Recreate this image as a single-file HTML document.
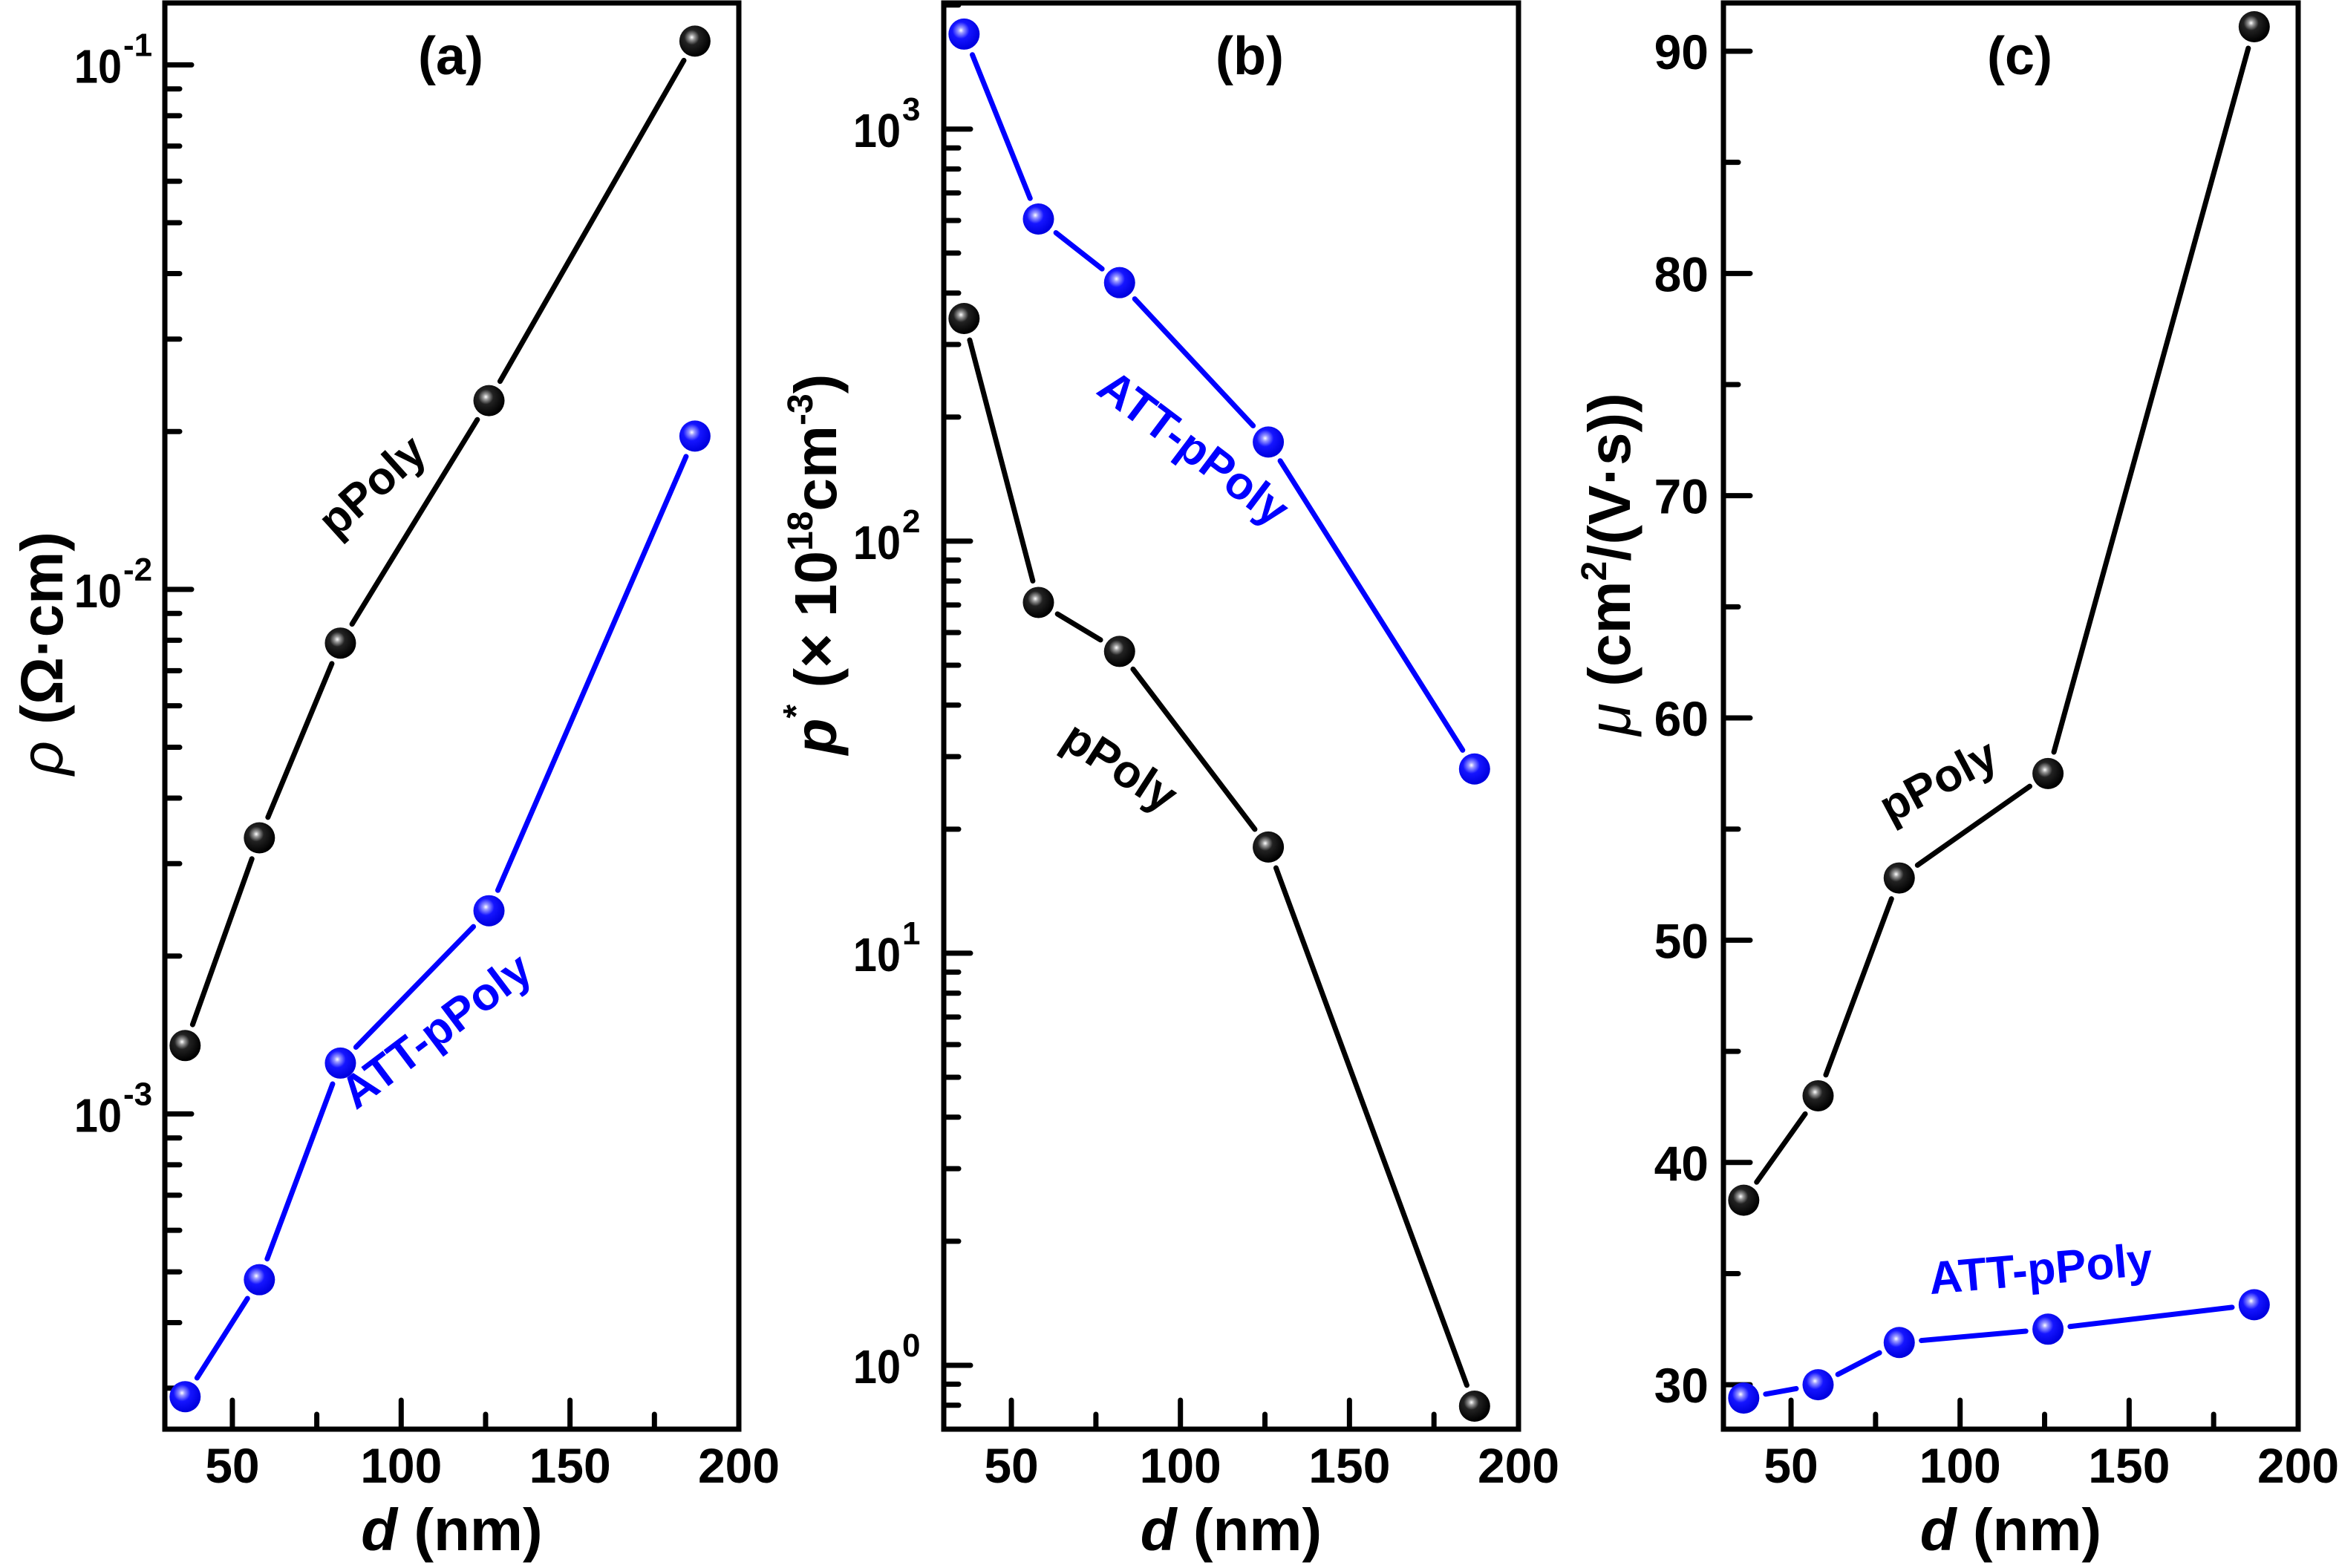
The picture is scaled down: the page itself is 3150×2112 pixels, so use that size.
<!DOCTYPE html>
<html><head><meta charset="utf-8"><style>
html,body{margin:0;padding:0;background:#fff;}
svg{display:block;}
text{font-family:"Liberation Sans",Arial,sans-serif;font-weight:bold;}
</style></head><body>
<svg id="fig" width="3150" height="2112" viewBox="0 0 3150 2112" xmlns="http://www.w3.org/2000/svg">
<defs>
<radialGradient id="gBlack" cx="0.4" cy="0.38" r="0.6"><stop offset="0" stop-color="#fff"/><stop offset="0.15" stop-color="#999"/><stop offset="0.4" stop-color="#222"/><stop offset="1" stop-color="#000"/></radialGradient>
<radialGradient id="gBlue" cx="0.4" cy="0.38" r="0.6"><stop offset="0" stop-color="#fff"/><stop offset="0.15" stop-color="#9999ff"/><stop offset="0.45" stop-color="#1515ff"/><stop offset="1" stop-color="#0000e0"/></radialGradient>
</defs>
</svg>
<script>
// shared x data (d, nm)
const dVals = [36, 58, 82, 126, 187];
// panel (a) resistivity
const rhoPPoly = [0.00135, 0.00336, 0.0079, 0.0229, 0.111];
const rhoATT = [0.000289, 0.000483, 0.00125, 0.00244, 0.0196];
// panel (b) carrier concentration
const pPPoly = [347, 71, 54, 18.1, 0.796];
const pATT = [1700, 605, 424, 174, 28];
// panel (c) mobility
const muPPoly = [38.3, 43.0, 52.8, 57.5, 91.1];
const muATT = [29.4, 30.0, 31.9, 32.5, 33.6];
const xTicks = [50, 100, 150, 200];
const xMinor = [75, 125, 175];
const aTickExp = [-1, -2, -3];
const bTickExp = [3, 2, 1, 0];
const cTicks = [30, 40, 50, 60, 70, 80, 90];
const cMinor = [35, 45, 55, 65, 75, 85];

const svg = document.getElementById('fig');
const NS = 'http://www.w3.org/2000/svg';
function mk(tag, attrs, parent) {
  const e = document.createElementNS(NS, tag);
  for (const k in attrs) e.setAttribute(k, attrs[k]);
  (parent || svg).appendChild(e);
  return e;
}

function panel(cfg) {
  const g = mk('g', {});
  
  
  const L = cfg.left, R = cfg.right, T = 4, B = 1925;
  const xs = v => L + (v - 30) / (cfg.xmax - 30) * (R - L);
  const ys = cfg.log
    ? v => T + (cfg.ymaxLog - Math.log10(v)) / (cfg.ymaxLog - cfg.yminLog) * (B - T)
    : v => T + (cfg.ymax - v) / (cfg.ymax - cfg.ymin) * (B - T);
  const fr = mk('rect', {x: L, y: T, width: R - L, height: B - T, fill: 'none', stroke: '#000', 'stroke-width': 7}, g);
  
  
  xTicks.forEach(v => {
    const x = xs(v);
    mk('line', {x1: x, y1: B, x2: x, y2: B - 39, stroke: '#000', 'stroke-width': 7, 'stroke-linecap': 'round'}, g);
    const t = mk('text', {x: x, y: 1997, 'font-size': 66, 'text-anchor': 'middle'}, g);
    t.textContent = v;
    
    
  });
  xMinor.forEach(v => {
    const x = xs(v);
    mk('line', {x1: x, y1: B, x2: x, y2: B - 20, stroke: '#000', 'stroke-width': 7, 'stroke-linecap': 'round'}, g);
  });
  if (cfg.log) {
    cfg.exps.forEach(ex => {
      const y = ys(Math.pow(10, ex));
      mk('line', {x1: L, y1: y, x2: L + 36, y2: y, stroke: '#000', 'stroke-width': 7, 'stroke-linecap': 'round'}, g);
      const t = mk('text', {x: L - 58, y: y + 24, 'font-size': 64, 'text-anchor': 'end', transform: `translate(${L - 58} 0) scale(0.9 1) translate(${-(L - 58)} 0)`}, g);
      t.textContent = '10';
      
      
      const s = mk('text', {x: L - 56, y: y - 12, 'font-size': 44, 'text-anchor': 'start'}, g);
      s.textContent = String(ex);
      for (let m = 2; m <= 9; m++) {
        const v = m * Math.pow(10, ex - 1);
        if (Math.log10(v) < cfg.yminLog) continue;
        const yy = ys(v);
        mk('line', {x1: L, y1: yy, x2: L + 20, y2: yy, stroke: '#000', 'stroke-width': 7, 'stroke-linecap': 'round'}, g);
      }
      for (let m = 2; m <= 9; m++) {
        const v = m * Math.pow(10, ex);
        if (Math.log10(v) > cfg.ymaxLog || ex !== cfg.exps[0]) continue;
        const yy = ys(v);
        mk('line', {x1: L, y1: yy, x2: L + 20, y2: yy, stroke: '#000', 'stroke-width': 7, 'stroke-linecap': 'round'}, g);
      }
    });
  } else {
    cTicks.forEach(v => {
      const y = ys(v);
      mk('line', {x1: L, y1: y, x2: L + 36, y2: y, stroke: '#000', 'stroke-width': 7, 'stroke-linecap': 'round'}, g);
      const t = mk('text', {x: L - 20, y: y + 24, 'font-size': 66, 'text-anchor': 'end'}, g);
      t.textContent = v;
      
      
    });
    cMinor.forEach(v => {
      const y = ys(v);
      mk('line', {x1: L, y1: y, x2: L + 20, y2: y, stroke: '#000', 'stroke-width': 7, 'stroke-linecap': 'round'}, g);
    });
  }
  cfg.series.forEach(s => {
    const sg = mk('g', {}, g);
    
    
    const pts = dVals.map((d, i) => [xs(d), ys(s.vals[i])]);
    for (let i = 0; i < pts.length - 1; i++) {
      const [x1, y1] = pts[i], [x2, y2] = pts[i + 1];
      const len = Math.hypot(x2 - x1, y2 - y1), gap = 30;
      if (len <= 2 * gap) continue;
      const ux = (x2 - x1) / len, uy = (y2 - y1) / len;
      const ln = mk('line', {x1: x1 + ux * gap, y1: y1 + uy * gap, x2: x2 - ux * gap, y2: y2 - uy * gap, stroke: s.color, 'stroke-width': 7, 'stroke-linecap': 'round'}, sg);
      
      
    }
    pts.forEach(([x, y]) => {
      const c = mk('circle', {cx: x, cy: y, r: 21, fill: s.grad}, sg);
      
      
    });
  });
  cfg.notes.forEach(n => {
    const t = mk('text', {x: n.x, y: n.y, 'font-size': 62, fill: n.color, 'text-anchor': 'middle', transform: `rotate(${n.rot} ${n.x} ${n.y})`}, g);
    t.textContent = n.text;
    
    
  });
  const pl = mk('text', {x: cfg.labelX, y: 100, 'font-size': 72, 'text-anchor': 'middle'}, g);
  pl.textContent = cfg.label;
  
  
  const xt = mk('text', {x: (L + R) / 2, y: 2088, 'font-size': 80, 'text-anchor': 'middle'}, g);
  xt.innerHTML = '<tspan font-style="italic">d</tspan> (nm)';
  
  
  const yt = mk('text', {x: 0, y: 0, 'font-size': 80, 'text-anchor': 'middle', transform: `translate(${cfg.yTitleX} ${cfg.yTitleY}) rotate(-90)`}, g);
  yt.innerHTML = cfg.yTitle;
  
  
}

panel({name: 'panel-a-resistivity', left: 222, right: 995, xmax: 200, log: true, ymaxLog: -0.882, yminLog: -3.601, exps: aTickExp,
  series: [{name: 'series-ppoly', vals: rhoPPoly, color: '#000', grad: 'url(#gBlack)'}, {name: 'series-att-ppoly', vals: rhoATT, color: '#0000ff', grad: 'url(#gBlue)'}],
  notes: [{text: 'pPoly', x: 515, y: 670, rot: -42, color: '#000', dn: 'ppoly-label'}, {text: 'ATT-pPoly', x: 600, y: 1405, rot: -37, color: '#0000ff', dn: 'att-ppoly-label'}],
  label: '(a)', labelX: 607, yTitleX: 84, yTitleY: 880,
  yTitle: '<tspan font-style="italic" font-weight="normal">ρ</tspan> (Ω·cm)'});

panel({name: 'panel-b-carrier-density', left: 1271, right: 2045, xmax: 200, log: true, ymaxLog: 3.306, yminLog: -0.155, exps: bTickExp,
  series: [{name: 'series-ppoly', vals: pPPoly, color: '#000', grad: 'url(#gBlack)'}, {name: 'series-att-ppoly', vals: pATT, color: '#0000ff', grad: 'url(#gBlue)'}],
  notes: [{text: 'ATT-pPoly', x: 1595, y: 620, rot: 37, color: '#0000ff', dn: 'att-ppoly-label'}, {text: 'pPoly', x: 1497, y: 1050, rot: 33, color: '#000', dn: 'ppoly-label'}],
  label: '(b)', labelX: 1683, yTitleX: 1126, yTitleY: 760,
  yTitle: '<tspan font-style="italic">p</tspan><tspan dy="-38" font-size="48">*</tspan><tspan dy="38"> (× 10</tspan><tspan dy="-32" font-size="48">18</tspan><tspan dy="32">cm</tspan><tspan dy="-32" font-size="48">-3</tspan><tspan dy="32">)</tspan>'});

panel({name: 'panel-c-mobility', left: 2321, right: 3095, xmax: 200, log: false, ymax: 92.17, ymin: 28.0,
  series: [{name: 'series-ppoly', vals: muPPoly, color: '#000', grad: 'url(#gBlack)'}, {name: 'series-att-ppoly', vals: muATT, color: '#0000ff', grad: 'url(#gBlue)'}],
  notes: [{text: 'pPoly', x: 2620, y: 1070, rot: -28, color: '#000', dn: 'ppoly-label'}, {text: 'ATT-pPoly', x: 2750, y: 1730, rot: -5, color: '#0000ff', dn: 'att-ppoly-label'}],
  label: '(c)', labelX: 2720, yTitleX: 2195, yTitleY: 760,
  yTitle: '<tspan font-style="italic" font-weight="normal">μ</tspan> (cm<tspan dy="-32" font-size="48">2</tspan><tspan dy="32">/(V·s))</tspan>'});
</script>
</body></html>
